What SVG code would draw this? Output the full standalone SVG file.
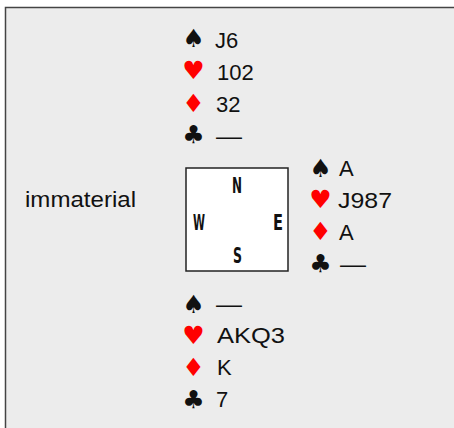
<svg xmlns="http://www.w3.org/2000/svg" width="454" height="428" viewBox="0 0 454 428">
<style>
.t{font-family:"Liberation Sans",Arial,sans-serif;font-size:22px;fill:#111}
.s{font-family:"DejaVu Sans",sans-serif;font-size:25px;text-anchor:middle}
.b{fill:#111}
.r{fill:#f00}
.c{font-family:"DejaVu Sans Condensed","DejaVu Sans",sans-serif;font-weight:bold;font-size:21px;fill:#111}
</style>
<rect x="0" y="0" width="454" height="428" fill="#fff"/>
<rect x="5.5" y="7.5" width="460" height="430" fill="#ececec" stroke="#444" stroke-width="1.5"/>
<g id="north">
<text class="s b" x="193.5" y="47">♠</text><text class="t" x="215" y="48">J6</text>
<text class="s r" x="193.5" y="79">♥</text><text class="t" x="217" y="80">102</text>
<text class="s r" x="193.5" y="112">♦</text><text class="t" x="216" y="112">32</text>
<text class="s b" x="193.5" y="143">♣</text><text class="t" x="216" y="144" textLength="26" lengthAdjust="spacingAndGlyphs">—</text>
</g>
<g id="east">
<text class="s b" x="320.5" y="177">♠</text><text class="t" x="339" y="176">A</text>
<text class="s r" x="320.5" y="208">♥</text><text class="t" x="338" y="208" textLength="54" lengthAdjust="spacingAndGlyphs">J987</text>
<text class="s r" x="320.5" y="240">♦</text><text class="t" x="339" y="240">A</text>
<text class="s b" x="320.5" y="272">♣</text><text class="t" x="340" y="272" textLength="26" lengthAdjust="spacingAndGlyphs">—</text>
</g>
<g id="south">
<text class="s b" x="193.5" y="313">♠</text><text class="t" x="216" y="312" textLength="26" lengthAdjust="spacingAndGlyphs">—</text>
<text class="s r" x="193.5" y="344">♥</text><text class="t" x="217" y="343" textLength="68" lengthAdjust="spacingAndGlyphs">AKQ3</text>
<text class="s r" x="193.5" y="376">♦</text><text class="t" x="217" y="375">K</text>
<text class="s b" x="193.5" y="408">♣</text><text class="t" x="216" y="407">7</text>
</g>
<g id="west">
<text class="t" x="25" y="207" textLength="111" lengthAdjust="spacingAndGlyphs">immaterial</text>
</g>
<g id="compass">
<rect x="186" y="168" width="102" height="103" fill="#fff" stroke="#222" stroke-width="1.5"/>
<text class="c" x="232" y="193" textLength="10" lengthAdjust="spacingAndGlyphs">N</text>
<text class="c" x="193" y="230" textLength="12" lengthAdjust="spacingAndGlyphs">W</text>
<text class="c" x="273" y="230" textLength="10" lengthAdjust="spacingAndGlyphs">E</text>
<text class="c" x="233" y="263" textLength="9" lengthAdjust="spacingAndGlyphs">S</text>
</g>
</svg>
